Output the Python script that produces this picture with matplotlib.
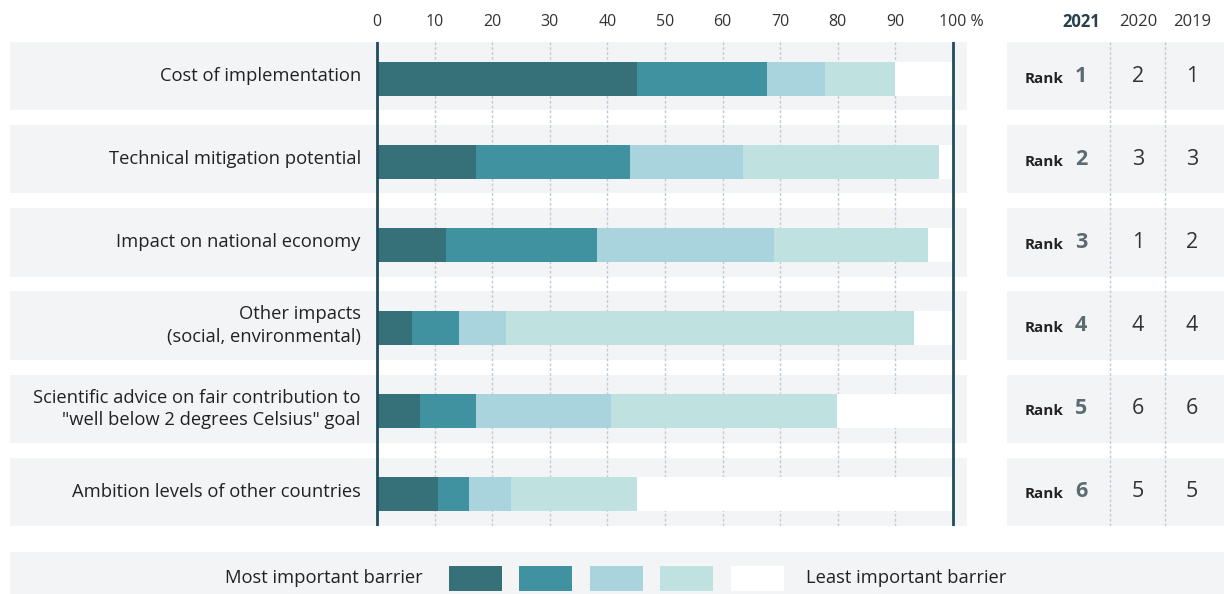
import numpy as np
import matplotlib.pyplot as plt

# barrier categories (top to bottom)
barriers = ['Cost of implementation',
            'Technical mitigation potential',
            'Impact on national economy',
            'Other impacts\n(social, environmental)',
            'Scientific advice on fair contribution to\n"well below 2 degrees Celsius" goal',
            'Ambition levels of other countries']

# share of answers per importance level, most -> least important (%)
most = [45.1, 17.2, 12.0, 6.1, 7.5, 10.6]
second = [22.6, 26.7, 26.2, 8.2, 9.7, 5.4]
third = [10.1, 19.6, 30.7, 8.1, 23.4, 7.3]
fourth = [12.1, 34.0, 26.7, 70.8, 39.3, 21.8]
least = [10.1, 2.5, 4.4, 6.8, 20.1, 54.9]

rank_2021 = [1, 2, 3, 4, 5, 6]
rank_2020 = [2, 3, 1, 4, 6, 5]
rank_2019 = [1, 3, 2, 4, 6, 5]
years = ['2021', '2020', '2019']

ticks = [0, 10, 20, 30, 40, 50, 60, 70, 80, 90, 100]

colors = ['#367079', '#4192a0', '#a9d4dd', '#bfe1df', '#ffffff']
panel = '#f3f4f6'
dark = '#1e4d5e'
grid_c = '#bccbd6'

plt.rcParams['font.family'] = ['Open Sans', 'DejaVu Sans']

W, H = 1224, 594
fig = plt.figure(figsize=(W / 100, H / 100), dpi=100)

def frac(x0, y0, x1, y1):
    return [x0 / W, 1 - y1 / H, (x1 - x0) / W, (y1 - y0) / H]

n = len(barriers)
y = np.arange(n)
ylim = (n - 1 + 0.41, -0.41)

# main chart
ax = fig.add_axes(frac(10, 42, 967, 526))
x_left = (10 - 377) / 5.76
x_right = (967 - 377) / 5.76
ax.set_xlim(x_left, x_right)
ax.set_ylim(*ylim)
ax.axis('off')

ax.barh(y, x_right - x_left, left=x_left, height=0.82, color=panel, zorder=0)
for t in ticks[1:-1]:
    ax.axvline(t, color=grid_c, lw=1, ls=(0, (2, 1.5)), zorder=1)

segs = [most, second, third, fourth, least]
left = np.zeros(n)
for vals, c in zip(segs, colors):
    ax.barh(y + 0.03, vals, left=left, height=0.41, color=c, zorder=2)
    left += np.array(vals)

ax.axvline(0, color=dark, lw=2, zorder=3)
ax.axvline(100, color=dark, lw=2, zorder=3)

for yi, lab in zip(y, barriers):
    ax.text(-2.8, yi, lab, ha='right', va='center', fontsize=13.2,
            color='#222222', linespacing=1.3)

for t in ticks:
    lab = '100 %' if t == 100 else str(t)
    xt = t + 1.5 if t == 100 else t
    ax.text(xt, 1 + 20 / 484, lab, transform=ax.get_xaxis_transform(),
            ha='center', va='center', fontsize=11.5, color='#333333')

# rank panel
ax2 = fig.add_axes(frac(1007, 42, 1224, 526))
ax2.set_xlim(0, 217)
ax2.set_ylim(*ylim)
ax2.axis('off')
ax2.barh(y, 217, left=0, height=0.82, color=panel, zorder=0)
for xv in [103, 158]:
    ax2.axvline(xv, color=grid_c, lw=1, ls=(0, (2, 1.5)), zorder=1)

col_x = [74, 131, 185]
for yi, r1, r2, r3 in zip(y, rank_2021, rank_2020, rank_2019):
    ax2.text(57, yi + 0.03, 'Rank', ha='right', va='center', fontsize=11,
             fontweight='bold', color='#222222')
    ax2.text(col_x[0], yi, str(r1), ha='center', va='center', fontsize=15.5,
             fontweight='bold', color='#5c6a72')
    ax2.text(col_x[1], yi, str(r2), ha='center', va='center', fontsize=15.5,
             color='#333333')
    ax2.text(col_x[2], yi, str(r3), ha='center', va='center', fontsize=15.5,
             color='#333333')
for xv, yr in zip(col_x, years):
    ax2.text(xv, 1 + 20 / 484, yr, transform=ax2.get_xaxis_transform(),
             ha='center', va='center', fontsize=12,
             fontweight='bold' if yr == '2021' else 'normal',
             color='#27414c' if yr == '2021' else '#333333')

# legend strip
ax3 = fig.add_axes(frac(10, 552, 1224, 594))
ax3.set_xlim(10, 1224)
ax3.set_ylim(0, 1)
ax3.axis('off')
ax3.barh(0.5, 1214, left=10, height=1, color=panel, zorder=0)
sw_left = [449, 519, 590, 660, 731]
ax3.bar(sw_left, 0.6, width=53, bottom=0.07, align='edge', color=colors, zorder=1)
ax3.text(423, 0.38, 'Most important barrier', ha='right', va='center',
         fontsize=13.2, color='#222222')
ax3.text(806, 0.38, 'Least important barrier', ha='left', va='center',
         fontsize=13.2, color='#222222')

fig.savefig('out.png', dpi=100)
